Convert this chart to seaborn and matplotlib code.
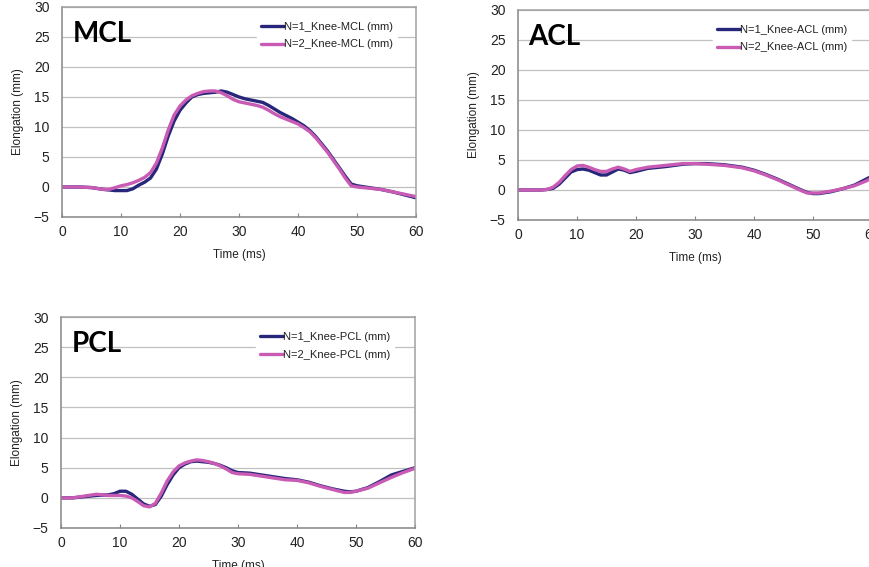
import numpy as np
import pandas as pd
import matplotlib
matplotlib.use("Agg")
import matplotlib.pyplot as plt
import seaborn as sns

# ---- data (time in ms, elongation in mm) ----
mcl_t = [0, 3, 5, 7, 8, 9, 10, 11, 12, 13, 14, 15, 16, 17, 18, 19, 20, 21, 22, 23, 24, 25,
         26, 27, 28, 29, 30, 31, 32, 33, 34, 35, 36, 37, 38, 39, 40, 41, 42, 43, 44, 45,
         46, 47, 48, 49, 50, 52, 54, 56, 58, 60]
mcl_n1 = [0, 0, -0.1, -0.4, -0.5, -0.6, -0.6, -0.6, -0.3, 0.3, 0.8, 1.5, 3.0, 5.5, 8.5, 11.0,
          12.8, 14.0, 15.0, 15.4, 15.6, 15.7, 15.8, 16.0, 15.8, 15.4, 15.0, 14.7, 14.5, 14.3,
          14.1, 13.6, 13.0, 12.4, 11.9, 11.4, 10.8, 10.2, 9.4, 8.4, 7.2, 6.0, 4.6, 3.2, 1.8,
          0.5, 0.2, -0.1, -0.4, -0.8, -1.3, -1.8]
mcl_n2 = [0, 0, -0.1, -0.4, -0.4, -0.1, 0.2, 0.4, 0.7, 1.1, 1.6, 2.4, 4.0, 6.5, 9.5, 12.0,
          13.5, 14.5, 15.2, 15.6, 15.9, 16.0, 16.0, 15.7, 15.2, 14.6, 14.2, 14.0, 13.8, 13.6,
          13.3, 12.8, 12.2, 11.7, 11.3, 10.9, 10.5, 9.9, 9.2, 8.2, 7.0, 5.8, 4.4, 3.0, 1.5,
          0.2, 0.0, -0.2, -0.4, -0.8, -1.2, -1.6]

acl_t = [0, 4, 5, 6, 7, 8, 9, 10, 11, 12, 13, 14, 15, 16, 17, 18, 19, 20, 22, 25, 28, 30,
         32, 35, 38, 40, 42, 44, 46, 48, 49, 50, 51, 53, 55, 57, 59, 60]
acl_n1 = [0, 0, 0.1, 0.3, 1.0, 2.0, 3.0, 3.4, 3.5, 3.3, 2.9, 2.5, 2.5, 3.0, 3.5, 3.3, 2.9,
          3.1, 3.6, 3.9, 4.3, 4.4, 4.4, 4.2, 3.8, 3.3, 2.6, 1.8, 0.9, 0.0, -0.4, -0.6, -0.6,
          -0.3, 0.2, 0.8, 1.8, 2.3]
acl_n2 = [0, 0, 0.1, 0.5, 1.3, 2.4, 3.4, 4.0, 4.1, 3.8, 3.4, 3.1, 3.1, 3.5, 3.8, 3.5, 3.1,
          3.4, 3.8, 4.1, 4.4, 4.4, 4.3, 4.1, 3.7, 3.2, 2.5, 1.7, 0.8, -0.1, -0.5, -0.5, -0.5,
          -0.2, 0.2, 0.7, 1.5, 2.0]

pcl_t = [0, 2, 4, 6, 8, 9, 10, 11, 12, 13, 14, 15, 16, 17, 18, 19, 20, 21, 22, 23, 24, 25,
         26, 27, 28, 29, 30, 32, 34, 36, 38, 40, 42, 44, 46, 48, 49, 50, 52, 54, 56, 58, 60]
pcl_n1 = [0, 0, 0.2, 0.4, 0.5, 0.7, 1.1, 1.1, 0.6, -0.2, -1.0, -1.4, -1.1, 0.3, 2.2, 3.8,
          5.0, 5.6, 6.0, 6.1, 6.0, 5.9, 5.7, 5.4, 5.0, 4.5, 4.2, 4.1, 3.8, 3.5, 3.2, 3.0, 2.6,
          2.0, 1.5, 1.1, 1.0, 1.1, 1.7, 2.7, 3.8, 4.4, 5.0]
pcl_n2 = [0, 0, 0.3, 0.6, 0.4, 0.4, 0.4, 0.3, 0.0, -0.6, -1.3, -1.5, -0.9, 0.8, 2.8, 4.3,
          5.3, 5.8, 6.1, 6.3, 6.2, 6.0, 5.7, 5.3, 4.8, 4.2, 4.0, 3.9, 3.6, 3.3, 3.0, 2.9, 2.5,
          1.9, 1.4, 0.9, 0.9, 1.1, 1.6, 2.5, 3.4, 4.2, 4.9]

x_ticks = [0, 10, 20, 30, 40, 50, 60]
y_ticks = [-5, 0, 5, 10, 15, 20, 25, 30]

NAVY = '#27267a'
PINK = '#c95bb4'


def setup_style():
    sns.set_theme(style="white")
    plt.rcParams['font.family'] = ['Liberation Sans', 'DejaVu Sans']
    plt.rcParams['axes.edgecolor'] = '#868686'


def draw_panel(fig, rect, name, t, n1, n2):
    ax = fig.add_axes(rect)
    df = pd.DataFrame({'t': t + t,
                       'v': n1 + n2,
                       'series': [f'N=1_Knee-{name} (mm)'] * len(t) + [f'N=2_Knee-{name} (mm)'] * len(t)})
    sns.lineplot(data=df, x='t', y='v', hue='series', palette=[NAVY, PINK],
                 linewidth=2.4, ax=ax, legend=True)

    ax.set_xlim(0, 60)
    ax.set_ylim(-5, 30)
    ax.set_xticks(x_ticks)
    ax.set_yticks(y_ticks)
    ax.yaxis.grid(True, color='#c0c0c0', linewidth=0.9)
    ax.set_axisbelow(True)
    for side in ['top', 'right', 'left', 'bottom']:
        ax.spines[side].set_linewidth(1.1)
    ax.spines['top'].set_color('#a0a0a0')
    ax.spines['right'].set_color('#a0a0a0')

    ax.tick_params(axis='x', direction='in', length=3, width=0.8, color='#868686',
                   bottom=True, labelsize=10, labelcolor='#222222', pad=6)
    ax.tick_params(axis='y', length=0, labelsize=10, labelcolor='#222222', pad=9)
    ax.set_xlabel('Time (ms)', fontsize=8.5, color='#222222', labelpad=7)
    ax.set_ylabel('Elongation (mm)', fontsize=8.5, color='#222222', labelpad=7)

    ax.text(0.03, 0.833, name, transform=ax.transAxes, fontsize=20, fontweight='bold',
            family=['Lato', 'DejaVu Sans'], color='black', va='baseline', ha='left')

    leg = ax.legend(loc='upper left', bbox_to_anchor=(0.535, 0.975), frameon=True,
                    fancybox=False, framealpha=1, edgecolor='white',
                    handlelength=2.0, handletextpad=0.0, borderpad=0.4, labelspacing=0.65,
                    prop={'family': ['Liberation Sans', 'DejaVu Sans'], 'size': 8})
    for txt in leg.get_texts():
        txt.set_color('#222222')
    return ax


def main():
    setup_style()
    fig = plt.figure(figsize=(8.7, 5.67), dpi=100)
    fig.patch.set_facecolor('white')

    draw_panel(fig, [0.0713, 0.6173, 0.4069, 0.3704], 'MCL', mcl_t, mcl_n1, mcl_n2)
    draw_panel(fig, [0.5954, 0.6120, 0.4069, 0.3704], 'ACL', acl_t, acl_n1, acl_n2)
    draw_panel(fig, [0.0701, 0.0688, 0.4069, 0.3720], 'PCL', pcl_t, pcl_n1, pcl_n2)

    fig.savefig('out.png', dpi=100)
    plt.close(fig)


if __name__ == "__main__":
    main()
